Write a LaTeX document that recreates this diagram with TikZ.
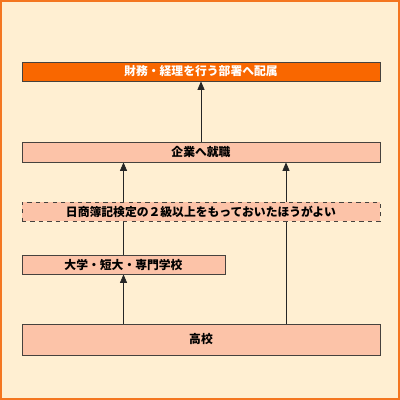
\documentclass[tikz,border=0pt]{standalone}
\usepackage{fontspec}
\newfontfamily\jp{Noto Sans CJK JP}
\definecolor{creambg}{RGB}{255,239,210}
\definecolor{frameorange}{RGB}{244,118,32}
\definecolor{deeporange}{RGB}{249,103,0}
\definecolor{salmon}{RGB}{252,195,168}
\definecolor{edgegray}{RGB}{70,66,62}
\usetikzlibrary{shapes,arrows.meta,positioning,calc,backgrounds}

\tikzset{
    stepbox/.style={draw=edgegray, fill=salmon, line width=0.6pt, minimum width=8.95cm,
        minimum height=0.475cm, inner sep=0pt, text=black, font=\jp\bfseries\fontsize{8.4pt}{10pt}\selectfont},
    uparrow/.style={draw=black!85, line width=0.5pt, -{Triangle[width=5pt,length=6pt]}}
}

\begin{document}
\begin{tikzpicture}
    \useasboundingbox (0,0) rectangle (10,10);
    \begin{scope}[on background layer]
        \draw[fill=creambg, draw=frameorange, line width=1.5pt] (0.025,0.025) rectangle (9.975,9.975);
    \end{scope}

    % boxes
    \node[stepbox, fill=deeporange, text=white] (post) at (5.025,8.2125) {財務・経理を行う部署へ配属};
    \node[stepbox, minimum height=0.5cm] (job) at (5.025,6.2) {企業へ就職};
    \node[stepbox, dashed] (license) at (5.025,4.7125) {日商簿記検定の２級以上をもっておいたほうがよい};
    \node[stepbox, minimum width=5.075cm] (college) at (3.0875,3.3875) {大学・短大・専門学校};
    \node[stepbox, minimum height=0.775cm] (highschool) at (5.025,1.5125) {高校};

    % connectors
    \begin{scope}[on background layer]
        \draw[uparrow] (highschool.north -| college) -- (college.south);
        \draw[uparrow] (college.north) -- (college.north |- job.south);
        \draw[uparrow] ([xshift=2.125cm]highschool.north) -- ([xshift=2.125cm]job.south);
        \draw[uparrow] (job.north) -- (post.south);
    \end{scope}
\end{tikzpicture}
\end{document}
